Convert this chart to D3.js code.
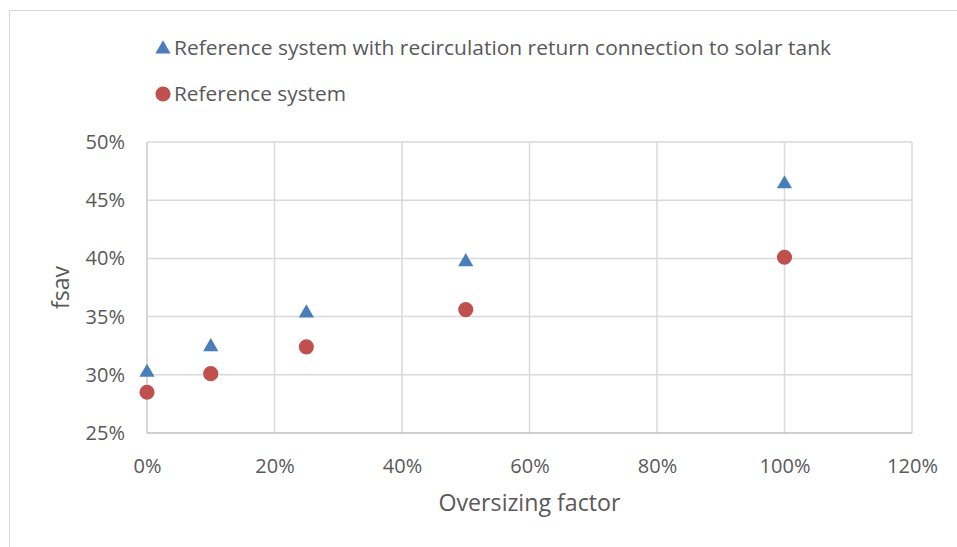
<!DOCTYPE html>
<html>
<head>
<meta charset="utf-8">
<script src="https://d3js.org/d3.v7.min.js"></script>
<style>
body { margin:0; background:#fff; }
text { font-family: "Open Sans", "DejaVu Sans", sans-serif; fill:#595959; }
</style>
</head>
<body>
<script>

var width = 957;
var height = 547;
var margin = {top:142, right:45, bottom:114, left:147};
var w = width - margin.left - margin.right;
var h = height - margin.top - margin.bottom;

// data
var oversizing = [0, 0.10, 0.25, 0.50, 1.00];
var recircValues = [0.302, 0.324, 0.353, 0.397, 0.464];
var refValues = [0.285, 0.301, 0.324, 0.356, 0.401];
var seriesNames = ["Reference system with recirculation return connection to solar tank", "Reference system"];
var xTicks = [0, 0.2, 0.4, 0.6, 0.8, 1.0, 1.2];
var yTicks = [0.25, 0.30, 0.35, 0.40, 0.45, 0.50];

var blue = "#4a7ebb";
var red = "#c0504d";

var svg = d3.select("body").append("svg")
    .attr("width", width)
    .attr("height", height);

// chart frame
svg.append("rect")
    .attr("x", 9.5).attr("y", 10.5)
    .attr("width", 1000).attr("height", 600)
    .attr("fill", "none")
    .attr("stroke", "#d9d9d9")
    .attr("stroke-width", 1);

var g = svg.append("g")
    .attr("transform", "translate(" + margin.left + "," + margin.top + ")");

var x = d3.scaleLinear().domain([0, 1.2]).range([0, w]);
var y = d3.scaleLinear().domain([0.25, 0.50]).range([h, 0]);
var pct = d3.format(".0%");

// gridlines
g.append("g")
    .selectAll("line")
    .data(xTicks)
    .enter().append("line")
    .attr("x1", function(d) { return x(d); })
    .attr("x2", function(d) { return x(d); })
    .attr("y1", 0).attr("y2", h)
    .attr("stroke", function(d) { return d === 0 ? "#c8c8c8" : "#d9d9d9"; })
    .attr("stroke-width", 1.5);

g.append("g")
    .selectAll("line")
    .data(yTicks)
    .enter().append("line")
    .attr("x1", 0).attr("x2", w)
    .attr("y1", function(d) { return y(d); })
    .attr("y2", function(d) { return y(d); })
    .attr("stroke", function(d) { return d === 0.25 ? "#bfbfbf" : "#d9d9d9"; })
    .attr("stroke-width", 1.5);

// axes (labels only)
var xAxis = g.append("g")
    .attr("transform", "translate(0," + h + ")")
    .call(d3.axisBottom(x).tickValues(xTicks).tickFormat(pct).tickSize(0).tickPadding(26));
xAxis.select(".domain").remove();
xAxis.selectAll("text").style("font-size", "20px").attr("fill", "#595959");

var yAxis = g.append("g")
    .call(d3.axisLeft(y).tickValues(yTicks).tickFormat(pct).tickSize(0).tickPadding(22));
yAxis.select(".domain").remove();
yAxis.selectAll("text").style("font-size", "20px").attr("fill", "#595959");

// series
var tri = d3.symbol().type(d3.symbolTriangle).size(100);
var circ = d3.symbol().type(d3.symbolCircle).size(180);

g.append("g")
    .selectAll("path")
    .data(oversizing)
    .enter().append("path")
    .attr("d", circ)
    .attr("fill", red)
    .attr("transform", function(d, i) { return "translate(" + x(d) + "," + y(refValues[i]) + ")"; });

g.append("g")
    .selectAll("path")
    .data(oversizing)
    .enter().append("path")
    .attr("d", tri)
    .attr("fill", blue)
    .attr("transform", function(d, i) { return "translate(" + x(d) + "," + y(recircValues[i]) + ")"; });

// axis titles
svg.append("text")
    .attr("x", margin.left + w / 2)
    .attr("y", 511)
    .attr("text-anchor", "middle")
    .style("font-size", "23px")
    .attr("textLength", 182)
    .attr("lengthAdjust", "spacingAndGlyphs")
    .text("Oversizing factor");

svg.append("text")
    .attr("transform", "translate(69," + (margin.top + h / 2) + ") rotate(-90)")
    .attr("text-anchor", "middle")
    .style("font-size", "23px")
    .text("fsav");

// legend
var legend = svg.append("g");
legend.append("path")
    .attr("d", tri)
    .attr("fill", blue)
    .attr("transform", "translate(163,49)");
legend.append("text")
    .attr("x", 174).attr("y", 55)
    .style("font-size", "20px")
    .attr("textLength", 657)
    .attr("lengthAdjust", "spacingAndGlyphs")
    .text(seriesNames[0]);

legend.append("path")
    .attr("d", circ)
    .attr("fill", red)
    .attr("transform", "translate(163,94)");
legend.append("text")
    .attr("x", 174).attr("y", 101)
    .style("font-size", "20px")
    .attr("textLength", 172)
    .attr("lengthAdjust", "spacingAndGlyphs")
    .text(seriesNames[1]);

</script>
</body>
</html>
